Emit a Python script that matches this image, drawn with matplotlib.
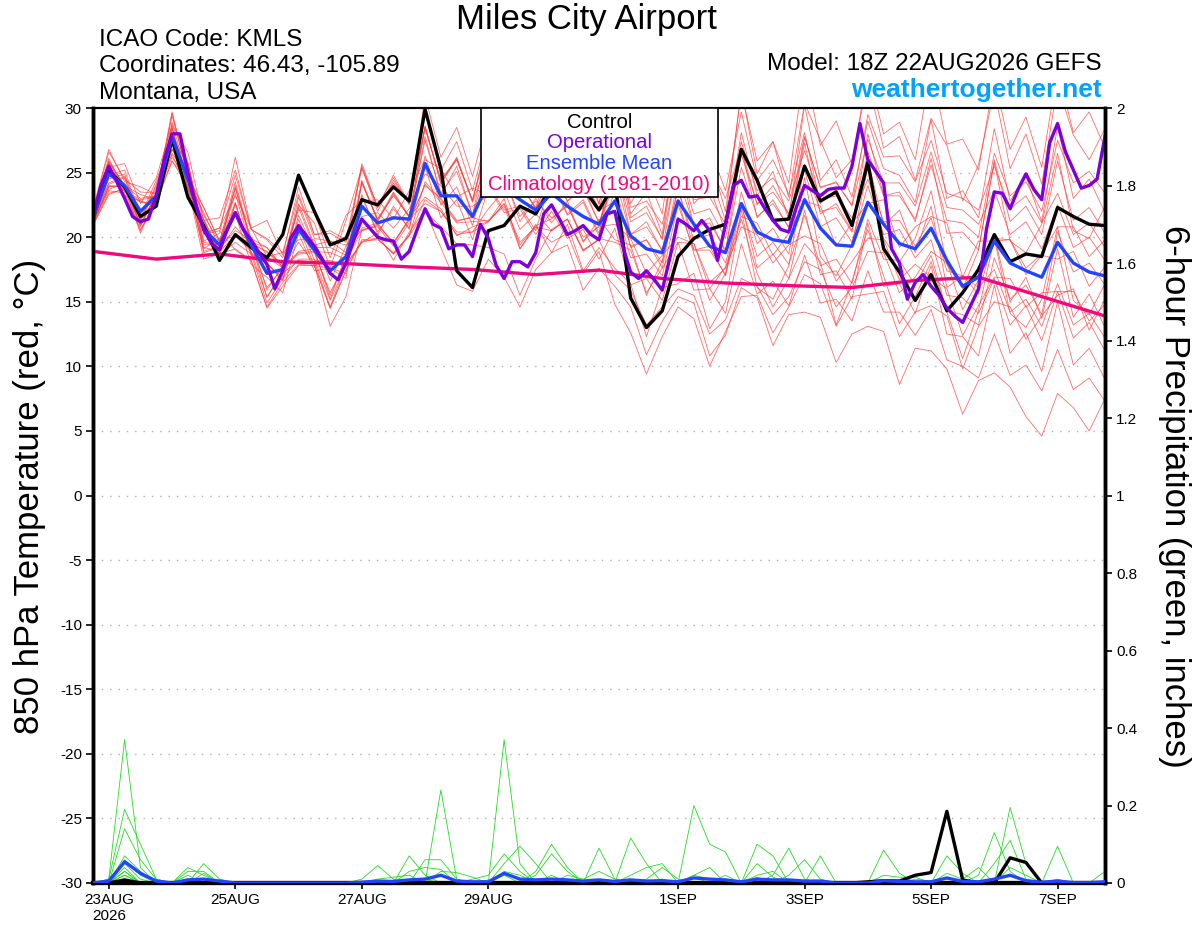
import numpy as np
import matplotlib.pyplot as plt
from matplotlib.patches import Rectangle

plt.rcParams['font.family'] = ['Liberation Sans', 'DejaVu Sans']
plt.rcParams['axes.unicode_minus'] = False

# 6-hourly steps from 18Z 22AUG2026 (hours since start)
hours = np.arange(0, 385, 6)
hours_op = np.arange(0, 385, 3)     # operational run is 3-hourly
hours_clim = np.arange(0, 385, 24)  # climatology once a day

tick_hours = [6, 54, 102, 150, 222, 270, 318, 366]
tick_labels = ['23AUG\n2026', '25AUG', '27AUG', '29AUG', '1SEP', '3SEP', '5SEP', '7SEP']

# 850 hPa temperature (C)
control = [21.5, 25.2, 23.9, 21.6, 22.4, 27.6, 23.1, 20.9, 18.2, 20.2,
           19.2, 18.4, 20.2, 24.8, 22.0, 19.4, 19.9, 22.9, 22.5, 23.9,
           22.8, 29.9, 25.3, 17.4, 16.1, 20.5, 20.9, 22.4, 21.8, 24.0,
           24.3, 23.8, 22.1, 24.2, 15.3, 13.0, 14.3, 18.5, 19.9, 20.6,
           21.0, 26.8, 24.4, 21.3, 21.4, 25.5, 22.8, 23.5, 20.9, 25.8,
           19.1, 17.3, 15.1, 17.1, 14.3, 15.7, 17.5, 20.2, 18.1, 18.7,
           18.5, 22.3, 21.6, 21.0, 20.9]

ens_mean = [21.5, 24.9, 24.0, 22.0, 23.2, 27.8, 24.5, 20.6, 19.4, 21.9,
            19.4, 17.2, 17.5, 20.6, 19.0, 17.4, 18.5, 22.4, 21.1, 21.5,
            21.4, 25.7, 23.2, 23.2, 21.6, 24.2, 23.8, 22.9, 22.1, 23.4,
            22.4, 21.6, 21.0, 22.8, 20.1, 19.1, 18.8, 22.8, 21.0, 19.3,
            18.8, 22.6, 20.4, 19.8, 19.6, 22.9, 20.7, 19.4, 19.3, 22.7,
            21.0, 19.5, 19.1, 20.7, 18.2, 16.2, 16.9, 19.7, 18.0, 17.4,
            16.9, 19.6, 18.0, 17.3, 17.0]

operational = [21.6, 24.0, 25.5, 24.3, 23.0, 21.6, 21.2, 21.4, 23.2, 26.0,
               28.0, 28.0, 25.0, 22.5, 20.6, 19.5, 19.0, 20.6, 21.9, 20.6,
               19.8, 18.8, 17.9, 16.0, 17.4, 19.9, 20.9, 20.1, 19.3, 18.3,
               17.2, 16.7, 18.0, 19.8, 21.4, 20.7, 20.0, 19.8, 19.7, 18.3,
               18.9, 20.6, 22.2, 21.0, 20.7, 19.1, 19.4, 19.4, 18.5, 21.0,
               19.9, 17.8, 16.8, 18.1, 18.1, 17.7, 18.8, 21.8, 22.5, 21.4,
               20.2, 20.5, 20.9, 20.2, 19.8, 21.8, 22.0, 19.3, 17.3, 16.8,
               17.4, 16.7, 15.9, 18.5, 21.4, 21.0, 20.5, 21.3, 20.5, 18.2,
               21.0, 24.0, 24.4, 23.1, 23.2, 22.2, 21.3, 20.6, 20.4, 22.4,
               24.0, 23.6, 23.2, 23.7, 23.8, 23.8, 25.5, 28.8, 26.0, 25.1,
               24.2, 19.1, 18.0, 15.2, 16.5, 17.1, 16.2, 15.5, 14.5, 13.9,
               13.4, 14.7, 16.0, 20.6, 23.5, 23.4, 22.2, 23.7, 24.9, 23.7,
               22.9, 27.3, 28.8, 26.6, 25.2, 23.8, 24.0, 24.5, 27.8]

climatology = [18.9, 18.3, 18.7, 18.1, 17.95, 17.7, 17.5, 17.1, 17.45,
               16.8, 16.45, 16.25, 16.1, 16.65, 16.9, 15.4, 13.9]

# ensemble members (thin red lines)
temp_members = [
    [21.9, 26.1, 23.6, 22.9, 23.1, 29.4, 24.8, 21.7, 19.6, 24.3, 19.6, 18.8, 17.9,
     22.5, 21.1, 17.6, 21.3, 25.4, 22.0, 24.4, 22.6, 28.6, 24.1, 26.2, 22.8,
     27.9, 25.0, 26.6, 23.9, 28.4, 24.3, 26.1, 22.5, 28.9, 22.6, 24.9, 21.8,
     30.6, 24.1, 26.3, 22.0, 31.2, 25.9, 27.4, 23.1, 30.4, 27.5, 24.6, 26.0,
     32.1, 26.9, 27.8, 24.4, 29.2, 27.1, 22.8, 25.6, 31.4, 25.3, 28.0, 24.1,
     31.8, 27.9, 26.0, 28.4],
    [21.0, 24.0, 23.9, 20.8, 23.3, 26.4, 23.8, 19.2, 18.9, 20.1, 18.9, 15.4, 17.2,
     18.2, 18.1, 14.6, 17.9, 19.6, 20.3, 18.2, 20.4, 22.1, 19.2, 16.3, 15.8,
     18.3, 16.9, 14.6, 17.5, 18.8, 19.4, 15.9, 17.6, 16.2, 14.6, 10.9, 13.5,
     15.4, 14.9, 10.8, 12.4, 16.1, 15.3, 11.6, 14.0, 14.2, 13.8, 10.3, 12.5,
     13.1, 12.7, 8.6, 11.4, 11.2, 9.8, 6.3, 8.9, 9.5, 8.4, 6.1, 4.6,
     7.9, 6.8, 5.0, 7.5],
    [22.1, 25.4, 25.7, 22.6, 24.6, 28.7, 26.6, 21.3, 21.5, 25.2, 20.6, 19.8, 18.4,
     22.1, 21.9, 18.4, 21.7, 22.8, 22.9, 21.4, 23.6, 26.0, 25.3, 23.1, 23.8,
     23.3, 24.8, 21.2, 23.0, 21.1, 22.8, 19.6, 21.4, 19.8, 19.4, 15.5, 18.2,
     22.9, 18.7, 15.1, 17.2, 21.4, 17.2, 14.6, 16.8, 19.5, 18.1, 13.2, 16.6,
     20.6, 17.0, 13.3, 15.4, 18.1, 14.2, 10.6, 14.3, 19.9, 14.1, 13.0, 15.2,
     20.8, 15.1, 14.0, 16.4],
    [21.1, 23.6, 23.4, 20.5, 22.9, 25.9, 23.9, 18.3, 18.7, 19.1, 18.2, 14.6, 16.5,
     17.9, 17.8, 14.5, 17.5, 19.8, 19.9, 18.7, 20.1, 24.3, 22.9, 21.2, 21.6,
     24.0, 22.1, 22.4, 20.5, 24.6, 21.8, 22.9, 20.3, 27.2, 21.5, 22.4, 19.8,
     28.3, 22.6, 23.9, 20.4, 28.1, 23.2, 25.1, 21.4, 30.2, 24.4, 26.0, 23.1,
     29.0, 25.3, 24.8, 22.7, 29.1, 23.0, 23.6, 21.5, 28.4, 22.8, 24.7, 21.2,
     28.6, 23.0, 24.5, 21.9],
    [21.7, 25.9, 23.5, 22.8, 22.4, 28.9, 24.4, 21.9, 19.2, 23.8, 19.9, 19.2, 17.6,
     22.6, 19.4, 19.7, 18.8, 25.7, 22.3, 24.8, 22.6, 30.1, 25.2, 27.4, 23.6,
     28.2, 25.8, 26.6, 24.0, 29.5, 25.4, 27.2, 23.8, 30.3, 24.8, 26.5, 23.4,
     31.1, 25.2, 26.9, 23.6, 29.7, 24.4, 26.0, 23.3, 28.1, 22.6, 23.7, 21.0,
     26.0, 20.9, 22.1, 18.8, 22.4, 16.1, 17.0, 15.6, 20.1, 15.0, 16.9, 13.7,
     19.1, 13.8, 15.6, 13.0],
    [21.3, 24.1, 24.6, 21.2, 23.8, 26.8, 25.1, 19.1, 19.9, 20.0, 19.6, 15.3, 17.4,
     18.9, 19.1, 15.2, 18.7, 20.7, 21.1, 19.4, 21.5, 23.1, 22.2, 20.1, 20.8,
     21.2, 23.0, 19.1, 21.0, 18.8, 21.0, 17.4, 19.2, 17.6, 16.4, 12.3, 16.1,
     16.4, 17.2, 12.9, 15.0, 22.1, 16.1, 15.2, 17.8, 24.6, 18.5, 17.0, 19.4,
     25.4, 19.9, 18.1, 19.9, 23.6, 17.9, 16.0, 19.0, 25.8, 19.7, 18.8, 21.0,
     26.5, 20.5, 19.9, 22.4],
    [21.8, 25.9, 24.0, 23.3, 22.9, 27.4, 24.9, 21.4, 18.9, 22.6, 18.8, 17.9, 16.9,
     21.7, 18.9, 18.8, 18.3, 24.4, 21.2, 23.4, 21.5, 27.8, 23.2, 25.5, 21.7,
     27.4, 24.6, 25.6, 23.2, 27.7, 24.4, 26.2, 22.6, 28.3, 21.8, 23.5, 20.2,
     29.6, 23.2, 24.9, 21.3, 31.5, 24.9, 27.4, 24.2, 33.4, 27.1, 29.0, 25.6,
     33.0, 28.0, 28.9, 26.0, 33.2, 27.2, 27.6, 25.2, 32.4, 26.8, 29.3, 25.4,
     33.0, 28.1, 29.7, 26.9],
    [21.2, 23.7, 24.2, 20.9, 23.4, 26.5, 24.8, 19.4, 19.5, 23.4, 19.1, 18.5, 17.6,
     19.6, 17.9, 13.1, 15.4, 20.6, 20.8, 19.3, 21.1, 24.1, 22.7, 21.1, 21.2,
     21.3, 22.4, 19.1, 20.8, 19.6, 20.3, 17.2, 18.9, 14.8, 12.6, 9.4, 12.3,
     14.6, 13.7, 10.0, 12.7, 15.4, 15.5, 12.6, 14.6, 17.1, 16.4, 13.1, 15.4,
     15.6, 15.8, 12.3, 14.2, 14.7, 13.9, 9.8, 13.1, 15.0, 14.6, 12.1, 13.9,
     15.5, 16.0, 12.8, 15.2],
    [22.0, 26.6, 24.5, 23.5, 23.4, 29.6, 24.8, 22.3, 19.7, 21.8, 17.9, 16.9, 15.7,
     20.3, 17.4, 17.6, 16.8, 24.3, 21.4, 23.5, 21.6, 28.6, 24.2, 26.0, 22.9,
     27.1, 25.0, 25.2, 23.3, 25.4, 22.8, 23.9, 21.1, 24.2, 19.2, 19.8, 17.6,
     24.0, 19.0, 19.3, 17.0, 22.6, 17.6, 18.7, 16.8, 22.1, 17.1, 17.4, 15.2,
     21.1, 16.2, 16.4, 14.1, 17.8, 12.5, 12.3, 10.8, 16.3, 11.0, 12.6, 9.6,
     15.0, 10.1, 11.4, 9.0],
    [21.0, 23.4, 23.7, 20.6, 22.6, 25.9, 24.3, 18.9, 19.3, 24.0, 19.6, 19.2, 17.7,
     23.1, 19.9, 19.7, 19.4, 20.5, 20.9, 19.6, 21.4, 22.6, 22.0, 20.2, 20.4,
     21.2, 22.6, 19.4, 20.9, 21.4, 22.5, 19.7, 20.9, 26.1, 20.2, 21.2, 18.9,
     26.2, 20.8, 21.5, 18.8, 26.9, 21.5, 22.9, 20.7, 27.3, 21.8, 22.6, 20.5,
     28.0, 23.2, 23.5, 21.2, 26.1, 20.3, 20.4, 19.0, 26.0, 21.2, 22.4, 20.2,
     25.9, 21.3, 22.3, 20.3],
    [21.5, 24.8, 25.2, 21.6, 24.4, 27.6, 25.7, 20.2, 20.5, 19.0, 18.2, 14.5, 16.2,
     17.8, 17.8, 14.5, 17.4, 19.7, 19.8, 18.8, 20.1, 22.0, 20.8, 19.5, 19.4,
     19.2, 18.7, 15.5, 18.3, 20.6, 21.4, 18.9, 19.9, 19.6, 19.0, 15.7, 17.6,
     19.6, 19.5, 16.0, 17.7, 21.6, 21.1, 18.6, 20.3, 22.8, 22.4, 19.3, 21.1,
     22.6, 22.9, 19.2, 20.8, 21.6, 21.1, 16.9, 19.7, 19.7, 19.8, 17.1, 18.6,
     18.3, 18.9, 16.2, 17.7],
    [21.1, 23.9, 24.0, 21.0, 23.3, 26.8, 25.4, 19.7, 20.3, 26.2, 20.7, 21.3, 18.6,
     23.9, 20.2, 20.5, 19.8, 25.5, 22.4, 24.6, 22.5, 30.9, 26.2, 28.5, 24.7,
     29.3, 27.0, 27.6, 25.2, 28.6, 25.7, 27.1, 24.2, 29.1, 24.3, 25.1, 23.0,
     29.0, 25.0, 25.4, 23.0, 26.9, 22.5, 24.0, 21.8, 25.2, 20.8, 21.5, 19.6,
     24.0, 20.2, 20.6, 18.4, 19.8, 15.5, 15.3, 14.1, 16.8, 13.2, 14.7, 12.0,
     15.8, 12.2, 13.4, 11.2],
    [21.6, 25.3, 23.5, 22.7, 22.5, 28.5, 23.8, 21.3, 18.5, 22.6, 18.7, 18.0, 16.6,
     20.8, 17.8, 17.6, 17.2, 23.3, 20.2, 22.4, 20.6, 26.3, 22.5, 23.9, 20.9,
     25.9, 23.9, 24.2, 22.2, 24.2, 21.7, 22.7, 20.1, 25.7, 21.2, 21.9, 19.9,
     25.7, 21.8, 22.2, 19.9, 26.4, 22.6, 23.5, 21.8, 27.8, 23.8, 24.3, 22.4,
     27.6, 24.2, 24.2, 22.4, 26.6, 22.3, 22.1, 21.0, 23.6, 20.2, 21.2, 19.1,
     22.5, 19.2, 20.0, 18.2],
    [22.2, 26.8, 24.3, 23.9, 23.3, 29.7, 24.6, 22.3, 19.7, 23.8, 19.5, 18.9, 17.7,
     22.3, 19.2, 19.2, 18.6, 23.1, 20.4, 22.2, 20.7, 25.5, 21.5, 22.9, 19.8,
     23.8, 21.9, 22.2, 20.2, 22.0, 19.9, 20.6, 18.3, 20.7, 16.3, 16.8, 15.1,
     19.6, 15.9, 16.0, 14.1, 19.5, 15.6, 16.6, 14.7, 18.6, 14.9, 15.2, 13.5,
     17.4, 14.2, 14.2, 12.4, 14.4, 10.5, 10.0, 9.1, 12.5, 9.3, 10.1, 8.1,
     11.3, 8.2, 9.1, 7.3],
    [20.9, 23.3, 23.8, 20.3, 23.1, 26.2, 24.4, 18.8, 19.2, 20.5, 19.8, 15.9, 17.8,
     18.8, 18.9, 15.5, 18.3, 24.2, 21.4, 23.2, 21.6, 27.5, 23.4, 25.1, 21.7,
     25.8, 24.1, 24.2, 22.2, 25.0, 22.8, 23.7, 21.1, 24.7, 20.2, 20.8, 19.0,
     23.6, 19.8, 20.2, 18.0, 22.4, 18.5, 19.6, 17.9, 21.7, 17.8, 18.3, 16.4,
     21.4, 18.3, 18.2, 16.3, 18.6, 14.3, 14.0, 13.2, 18.4, 15.2, 16.3, 14.0,
     20.4, 17.3, 18.0, 16.3],
    [21.4, 24.5, 24.9, 21.4, 24.1, 27.9, 25.8, 20.3, 20.7, 24.8, 20.6, 19.9, 18.8,
     23.3, 20.2, 20.3, 19.6, 25.3, 22.3, 24.2, 22.7, 28.4, 24.4, 26.1, 22.7,
     25.9, 24.0, 24.1, 22.3, 26.2, 23.7, 24.6, 22.1, 22.7, 18.4, 18.7, 17.0,
     22.5, 19.0, 19.0, 17.1, 23.5, 19.5, 20.7, 18.7, 25.6, 22.0, 22.3, 20.4,
     26.6, 23.2, 23.2, 21.4, 25.6, 21.3, 21.1, 20.0, 26.5, 23.2, 24.3, 22.0,
     27.5, 24.2, 25.1, 23.4],
    [21.9, 25.8, 24.0, 23.0, 23.2, 28.4, 23.9, 21.0, 19.0, 20.8, 19.4, 16.1, 17.6,
     18.7, 18.8, 15.7, 18.2, 20.5, 21.0, 19.6, 21.3, 24.0, 23.0, 21.3, 21.5,
     21.2, 22.6, 19.6, 20.8, 20.5, 21.4, 19.0, 19.8, 17.1, 15.9, 13.2, 14.6,
     16.0, 15.5, 12.5, 13.6, 16.8, 16.2, 14.0, 15.4, 18.1, 17.5, 14.6, 16.1,
     18.9, 18.8, 15.7, 16.9, 18.9, 18.0, 14.4, 16.7, 19.9, 19.8, 17.6, 18.7,
     20.8, 20.8, 18.5, 19.8],
    [21.2, 23.9, 24.0, 21.0, 23.2, 26.8, 24.5, 19.6, 19.4, 22.7, 18.6, 18.0, 16.7,
     21.4, 18.2, 18.2, 17.7, 24.2, 21.3, 23.3, 21.6, 28.5, 24.4, 26.0, 22.8,
     27.8, 26.0, 26.2, 24.2, 26.1, 23.8, 24.6, 22.2, 26.6, 22.3, 22.8, 21.0,
     26.6, 22.9, 23.1, 21.0, 27.4, 23.6, 24.6, 22.8, 26.7, 22.9, 23.2, 21.5,
     24.5, 21.2, 21.3, 19.3, 21.5, 17.4, 17.0, 16.1, 17.5, 14.2, 15.2, 13.1,
     16.4, 13.2, 14.1, 12.2],
    [21.6, 25.7, 23.2, 22.8, 22.4, 28.6, 23.7, 21.4, 18.6, 19.6, 18.7, 14.9, 16.8,
     18.3, 18.3, 15.1, 17.8, 19.6, 19.9, 18.7, 20.2, 22.9, 22.0, 20.4, 20.4,
     22.2, 23.6, 20.6, 21.8, 20.5, 21.4, 19.0, 19.8, 23.6, 19.3, 19.8, 18.0,
     24.6, 20.9, 21.1, 19.0, 25.4, 21.6, 22.6, 20.8, 27.7, 23.9, 24.2, 22.5,
     29.5, 26.2, 26.3, 24.3, 27.5, 23.4, 23.0, 22.1, 25.5, 22.2, 23.2, 21.1,
     23.4, 20.2, 21.1, 19.2],
    [21.4, 24.2, 24.7, 21.3, 24.0, 27.5, 25.8, 20.3, 20.7, 23.2, 20.7, 18.5, 18.8,
     19.8, 19.8, 16.6, 19.3, 21.6, 21.9, 20.7, 22.2, 24.9, 24.0, 22.4, 22.4,
     23.2, 24.6, 21.6, 22.8, 21.5, 22.4, 20.0, 20.8, 21.0, 19.9, 17.2, 18.6,
     20.0, 19.5, 16.5, 17.6, 20.8, 20.2, 18.0, 19.4, 20.1, 19.5, 16.6, 18.1,
     19.9, 19.8, 16.7, 17.9, 16.9, 16.0, 12.4, 14.7, 16.9, 16.8, 14.6, 15.7,
     15.8, 15.8, 13.5, 14.8],
]

# 6-hour precipitation (inches)
control_precip = [0, 0, 0.008, 0, 0, 0, 0, 0, 0, 0,
                  0, 0, 0, 0, 0, 0, 0, 0, 0, 0,
                  0, 0, 0, 0, 0, 0, 0, 0, 0, 0,
                  0, 0, 0, 0, 0, 0, 0, 0, 0, 0,
                  0, 0, 0, 0, 0, 0, 0, 0, 0, 0.003,
                  0.006, 0.005, 0.02, 0.027, 0.185, 0.008, 0, 0, 0.065, 0.053,
                  0, 0, 0, 0, 0]

mean_precip = [0, 0.005, 0.055, 0.025, 0.005, 0, 0.008, 0.01, 0.005, 0,
               0, 0, 0, 0, 0, 0, 0, 0.002, 0.005, 0.004,
               0.008, 0.01, 0.02, 0.005, 0.003, 0.003, 0.025, 0.01, 0.008, 0.01,
               0.008, 0.005, 0.008, 0.004, 0.008, 0.005, 0.006, 0.003, 0.013, 0.01,
               0.008, 0.003, 0.01, 0.008, 0.008, 0.005, 0.005, 0, 0, 0,
               0.006, 0.004, 0.003, 0.003, 0.013, 0.004, 0.003, 0.01, 0.02, 0.006,
               0.002, 0.005, 0.001, 0.001, 0.003]

# member precipitation: (member, step, inches); all other steps are dry
precip_events = [
    (0, 1, 0.01), (1, 1, 0.01),
    (0, 2, 0.37), (1, 2, 0.19), (2, 2, 0.14), (3, 2, 0.07), (4, 2, 0.06), (5, 2, 0.05),
    (6, 2, 0.04), (7, 2, 0.03), (8, 2, 0.03), (9, 2, 0.02), (10, 2, 0.02), (11, 2, 0.01),
    (0, 3, 0.04), (1, 3, 0.10), (2, 3, 0.06), (3, 3, 0.03), (4, 3, 0.02), (5, 3, 0.01),
    (1, 4, 0.01), (2, 4, 0.01),
    (2, 6, 0.04), (5, 6, 0.03), (8, 6, 0.02), (9, 6, 0.01),
    (4, 7, 0.05), (5, 7, 0.03), (7, 7, 0.025), (2, 7, 0.02), (10, 7, 0.01), (4, 8, 0.01),
    (12, 17, 0.01), (12, 18, 0.045), (3, 18, 0.01), (3, 19, 0.015), (12, 19, 0.01),
    (6, 20, 0.07), (13, 20, 0.03), (3, 20, 0.02),
    (14, 21, 0.06), (6, 21, 0.02), (13, 21, 0.04), (0, 21, 0.01),
    (8, 22, 0.24), (14, 22, 0.06), (13, 22, 0.035), (15, 22, 0.03),
    (8, 23, 0.01), (15, 23, 0.027), (14, 23, 0.01), (15, 24, 0.015), (16, 24, 0.01),
    (16, 25, 0.02), (0, 25, 0.008),
    (9, 26, 0.37), (16, 26, 0.075), (17, 26, 0.05), (1, 26, 0.03), (2, 26, 0.02),
    (9, 27, 0.05), (17, 27, 0.095), (16, 27, 0.03), (1, 27, 0.02),
    (17, 28, 0.05), (18, 28, 0.03), (10, 28, 0.02),
    (18, 29, 0.10), (10, 29, 0.075), (11, 29, 0.02),
    (18, 30, 0.04), (10, 30, 0.03), (19, 30, 0.02), (19, 31, 0.01),
    (11, 32, 0.09), (19, 32, 0.03), (11, 33, 0.01), (19, 33, 0.01),
    (12, 34, 0.116), (13, 34, 0.02), (12, 35, 0.05), (13, 35, 0.04), (14, 35, 0.01),
    (13, 36, 0.05), (14, 36, 0.04), (15, 36, 0.01), (14, 37, 0.01),
    (15, 38, 0.20), (16, 38, 0.02), (0, 38, 0.02), (1, 38, 0.015),
    (15, 39, 0.10), (16, 39, 0.04), (0, 39, 0.01), (15, 40, 0.08), (17, 40, 0.02),
    (18, 42, 0.10), (19, 42, 0.05), (2, 42, 0.02), (3, 42, 0.015),
    (18, 43, 0.07), (4, 43, 0.02), (19, 43, 0.015), (2, 43, 0.03),
    (4, 44, 0.09), (5, 44, 0.02), (4, 45, 0.01), (5, 45, 0.06),
    (6, 46, 0.07), (5, 46, 0.01),
    (7, 50, 0.085), (8, 50, 0.02), (7, 51, 0.025), (8, 51, 0.015),
    (8, 52, 0.015), (9, 52, 0.01), (9, 53, 0.005),
    (10, 54, 0.07), (11, 54, 0.025), (12, 54, 0.015), (10, 55, 0.025), (11, 55, 0.01),
    (11, 56, 0.04), (13, 56, 0.02),
    (13, 57, 0.13), (15, 57, 0.05),
    (14, 58, 0.195), (15, 58, 0.11), (13, 58, 0.03), (16, 58, 0.04),
    (14, 59, 0.05), (16, 59, 0.02), (15, 59, 0.01),
    (17, 61, 0.095), (18, 61, 0.01), (19, 64, 0.03),
]

precip_members = np.zeros((20, len(hours)))
for m, step, val in precip_events:
    precip_members[m, step] = val

fig = plt.figure(figsize=(12, 9.27), dpi=100)
ax = fig.add_axes([93/1200, 1 - 883/927, 1012/1200, 775/927])
ax2 = ax.twinx()

# temperature
for y in range(-25, 30, 5):
    ax.axhline(y, color='#b0b0b0', lw=1.0, ls=(0, (1, 5)), zorder=1)
for mem in temp_members:
    ax.plot(hours, mem, color='#ff3b3b', lw=0.6, alpha=0.75, zorder=2)
ax.plot(hours_clim, climatology, color='#f0087f', lw=2.4, zorder=3)
ax.plot(hours, control, color='black', lw=2.4, zorder=4)
ax.plot(hours, ens_mean, color='#2244ff', lw=2.4, zorder=5)
ax.plot(hours_op, operational, color='#7b00dc', lw=2.4, zorder=6)

ax.set_xlim(0, 384)
ax.set_ylim(-30, 30)
ax.set_yticks(range(-30, 31, 5))
ax.set_xticks(tick_hours)
ax.set_xticklabels(tick_labels)

# precipitation
for row in precip_members:
    ax2.plot(hours, row, color='#22dd22', lw=0.6, zorder=2)
ax2.plot(hours, mean_precip, color='#2244ff', lw=2.4, zorder=4)
ax2.plot(hours, control_precip, color='black', lw=2.4, zorder=3)
ax2.set_ylim(0, 2)
ax2.set_yticks(np.arange(0, 2.01, 0.2))
ax2.set_yticklabels(['0', '0.2', '0.4', '0.6', '0.8', '1', '1.2', '1.4', '1.6', '1.8', '2'])

for a in (ax, ax2):
    a.spines['left'].set_linewidth(2.5)
    a.spines['right'].set_linewidth(2.5)
    a.spines['bottom'].set_linewidth(3)
    a.spines['top'].set_linewidth(1.5)
ax.tick_params(axis='y', direction='out', length=5, width=1.2, labelsize=11, pad=3)
ax.tick_params(axis='x', direction='out', length=4, width=1.2, labelsize=11, pad=3)
ax2.tick_params(axis='y', direction='out', length=5, width=1.2, labelsize=11, pad=3)

# legend box sitting on the top edge
x0 = (481 - 93) / 1012
x1 = (718 - 93) / 1012
y0 = (883 - 197) / 775
ax2.add_patch(Rectangle((x0, y0), x1 - x0, 1 - y0, transform=ax2.transAxes,
                        facecolor='white', edgecolor='black', lw=1.2, zorder=10, clip_on=False))
legend_items = [('Control', 'black'), ('Operational', '#7b00dc'),
                ('Ensemble Mean', '#2244ff'), ('Climatology (1981-2010)', '#f0087f')]
for k, (txt, col) in enumerate(legend_items):
    ax2.text((x0 + x1) / 2, (883 - 122 - 20.8 * k) / 775, txt, color=col, fontsize=14.6,
             ha='center', va='center', transform=ax2.transAxes, zorder=11)

# titles and labels
fig.text(586/1200, 1 - 19/927, 'Miles City Airport', ha='center', va='center', fontsize=25)
fig.text(99/1200, 1 - 40/927, 'ICAO Code: KMLS', ha='left', va='center', fontsize=17.5)
fig.text(99/1200, 1 - 66/927, 'Coordinates: 46.43, -105.89', ha='left', va='center', fontsize=17.5)
fig.text(99/1200, 1 - 93/927, 'Montana, USA', ha='left', va='center', fontsize=17.5)
fig.text(1102/1200, 1 - 64/927, 'Model: 18Z 22AUG2026 GEFS', ha='right', va='center', fontsize=17.5)
fig.text(1102/1200, 1 - 90/927, 'weathertogether.net', ha='right', va='center', fontsize=19,
         fontweight='bold', color='#00a2ff')
fig.text(30/1200, 1 - 496/927, '850 hPa Temperature (red, °C)', rotation=90,
         ha='center', va='center', fontsize=25)
fig.text(1175/1200, 1 - 496/927, '6-hour Precipitation (green, inches)', rotation=270,
         ha='center', va='center', fontsize=25)

fig.savefig('out.png', dpi=100)
